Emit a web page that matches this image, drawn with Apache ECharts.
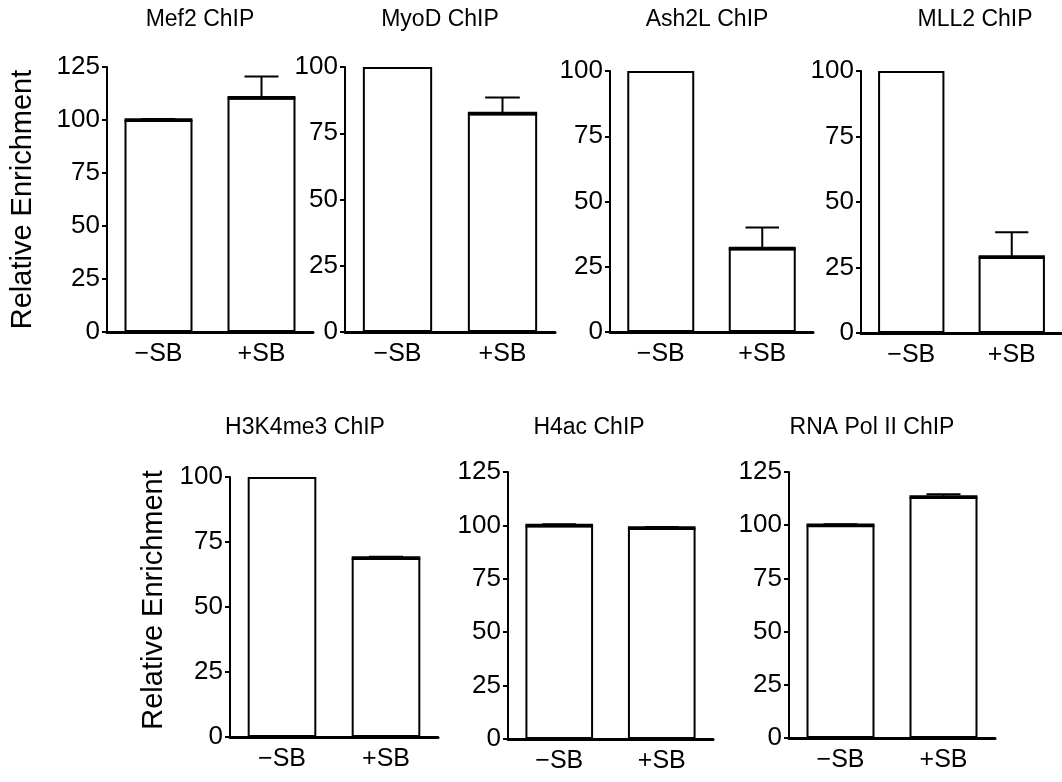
<!DOCTYPE html>
<html><head><meta charset="utf-8">
<script src="https://cdn.jsdelivr.net/npm/echarts@6/dist/echarts.min.js"></script>
<style>html,body{margin:0;padding:0;background:#fff}#c{width:1062px;height:782px}</style>
</head><body><div id="c"></div>
<script>
// ---- data ----
const categories = ['−SB', '+SB'];
const panelTitles = ['Mef2 ChIP', 'MyoD ChIP', 'Ash2L ChIP', 'MLL2 ChIP', 'H3K4me3 ChIP', 'H4ac ChIP', 'RNA Pol II ChIP'];
const yAxisName = 'Relative Enrichment';
const yTickInterval = 25;
const yMaxes = [125, 100, 100, 100, 100, 125, 125];

const mef2Values = [100, 110.5];    const mef2Errors = [0.5, 10];
const myodValues = [100, 82.5];     const myodErrors = [null, 6];
const ash2lValues = [100, 32];      const ash2lErrors = [null, 8];
const mll2Values = [100, 29];       const mll2Errors = [null, 9.5];
const h3k4me3Values = [100, 68.8];  const h3k4me3Errors = [null, 0.5];
const h4acValues = [100, 98.8];     const h4acErrors = [0.5, 0.5];
const polIIValues = [100, 113.3];   const polIIErrors = [0.5, 1.2];

const allValues = [mef2Values, myodValues, ash2lValues, mll2Values, h3k4me3Values, h4acValues, polIIValues];
const allErrors = [mef2Errors, myodErrors, ash2lErrors, mll2Errors, h3k4me3Errors, h4acErrors, polIIErrors];

// ---- layout (pixels) ----
const gridBoxes = [
  {left: 107, top: 67, width: 206, height: 265},
  {left: 345, top: 67, width: 210, height: 265},
  {left: 610, top: 71, width: 203, height: 261},
  {left: 861, top: 71, width: 209, height: 262},
  {left: 230, top: 477, width: 208, height: 260},
  {left: 508, top: 472, width: 205, height: 267},
  {left: 789, top: 472, width: 206, height: 266}
];
const titleCenters = [[200, 8], [440, 8], [707, 8], [975, 8], [305, 416], [589, 416], [872, 416]];
const FONT = '"Liberation Sans", Arial, Helvetica, sans-serif';
const BAR_FRAC = 0.66;

function errRender(params, api) {
  const e = api.value(2);
  if (e == null || isNaN(e)) return null;
  const i = api.value(0), v = api.value(1);
  const p = api.coord([i, v]);
  const t = api.coord([i, v + e]);
  const bw = api.size([1, 0])[0] * BAR_FRAC;
  const cw = bw / 2;
  return {
    type: 'group',
    children: [
      {type: 'line', shape: {x1: p[0] - bw / 2, y1: p[1], x2: p[0] + bw / 2, y2: p[1]}, style: {stroke: '#000', lineWidth: 3.5}},
      {type: 'line', shape: {x1: p[0], y1: p[1], x2: p[0], y2: t[1]}, style: {stroke: '#000', lineWidth: 2}},
      {type: 'line', shape: {x1: p[0] - cw / 2, y1: t[1], x2: p[0] + cw / 2, y2: t[1]}, style: {stroke: '#000', lineWidth: 2}}
    ]
  };
}

const grid = [], xAxis = [], yAxis = [], series = [], title = [];
gridBoxes.forEach((g, k) => {
  grid.push({left: g.left, top: g.top, width: g.width, height: g.height, containLabel: false});
  title.push({
    text: panelTitles[k], left: titleCenters[k][0], top: titleCenters[k][1], textAlign: 'center', padding: 0,
    textStyle: {fontFamily: FONT, fontSize: 23, fontWeight: 'normal', color: '#000'}
  });
  xAxis.push({
    type: 'category', gridIndex: k, data: categories,
    axisLine: {lineStyle: {color: '#000', width: 3}},
    axisTick: {alignWithLabel: true, length: 7, lineStyle: {color: '#000', width: 2}},
    axisLabel: {fontFamily: FONT, fontSize: 25, color: '#000', margin: 10}
  });
  yAxis.push({
    type: 'value', gridIndex: k, min: 0, max: yMaxes[k], interval: yTickInterval,
    name: (k === 0 || k === 4) ? yAxisName : '',
    nameLocation: 'middle', nameGap: k === 0 ? 70 : 62,
    nameTextStyle: {fontFamily: FONT, fontSize: 29, color: '#000', padding: k === 4 ? [0, 0, 0, 14] : 0},
    axisLine: {show: true, lineStyle: {color: '#000', width: 2}},
    axisTick: {show: true, length: 5, lineStyle: {color: '#000', width: 2}},
    axisLabel: {fontFamily: FONT, fontSize: 26, color: '#000', margin: 7},
    splitLine: {show: false}
  });
  series.push({
    type: 'bar', xAxisIndex: k, yAxisIndex: k, data: allValues[k], barWidth: (BAR_FRAC * 100) + '%',
    itemStyle: {color: '#fff', borderColor: '#000', borderWidth: 2}, silent: true, animation: false
  });
  series.push({
    type: 'custom', xAxisIndex: k, yAxisIndex: k, renderItem: errRender, z: 5, silent: true, animation: false,
    data: allValues[k].map((v, i) => [i, v, allErrors[k][i]])
  });
});

const chart = echarts.init(document.getElementById('c'), null, {renderer: 'canvas'});
chart.setOption({backgroundColor: '#fff', animation: false, title, grid, xAxis, yAxis, series});
</script>
</body></html>
